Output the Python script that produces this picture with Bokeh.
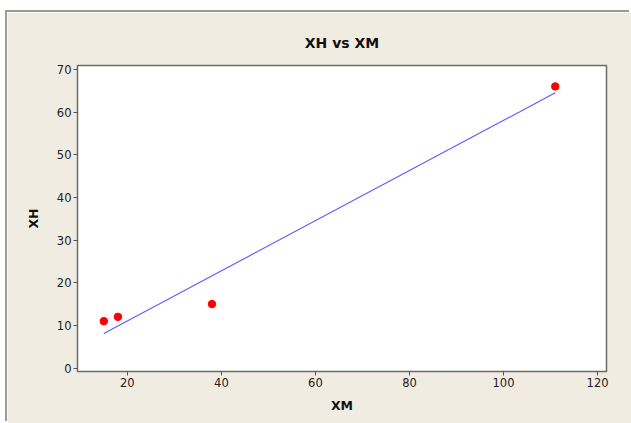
from bokeh.plotting import figure
from bokeh.models import Range1d, FixedTicker
from bokeh.embed import file_html
from bokeh.resources import INLINE

# data
xm = [15, 18, 38, 111]
xh = [11, 12, 15, 66]
fit_x = [15, 111]
fit_y = [8.1, 64.5]
x_ticks = [20, 40, 60, 80, 100, 120]
y_ticks = [0, 10, 20, 30, 40, 50, 60, 70]

BG = "#F1ECE2"
FONT = "DejaVu Sans"

p = figure(width=624, height=411, output_backend="svg", toolbar_location=None,
           x_range=Range1d(9.4, 121.9), y_range=Range1d(-0.8, 70.9),
           min_border_left=70, min_border_right=25, min_border_top=53, min_border_bottom=52,
           margin=(12, 0, 0, 7),
           styles={"box-shadow": "-2px -2px 0 #9a9a9a"})
p.background_fill_color = "white"
p.border_fill_color = BG
p.outline_line_color = "#6a6a6a"
p.outline_line_width = 1.5
p.grid.visible = False

p.title.text = "XH vs XM"
p.title.align = "center"
p.title.text_font = FONT
p.title.text_font_size = "14px"
p.title.text_font_style = "bold"
p.title.text_color = "#111111"
p.title.standoff = 29

for ax in (p.xaxis[0], p.yaxis[0]):
    ax.axis_line_color = "#6a6a6a"
    ax.major_tick_line_color = "#555555"
    ax.major_tick_in = 0
    ax.major_tick_out = 4
    ax.minor_tick_line_color = None
    ax.major_label_text_font = FONT
    ax.major_label_text_font_size = "11.5px"
    ax.major_label_text_color = "#222222"
    ax.major_label_standoff = 2
    ax.axis_label_text_font = FONT
    ax.axis_label_text_font_size = "12.5px"
    ax.axis_label_text_font_style = "bold"
    ax.axis_label_text_color = "#111111"

p.xaxis[0].ticker = FixedTicker(ticks=x_ticks)
p.yaxis[0].ticker = FixedTicker(ticks=y_ticks)
p.xaxis[0].axis_label = "XM"
p.yaxis[0].axis_label = "XH"
p.xaxis[0].axis_label_standoff = 8
p.yaxis[0].axis_label_standoff = 13

p.line(fit_x, fit_y, line_color="#5a5aff", line_width=1.1)
p.scatter(xm, xh, size=7.5, fill_color="#FF0000", line_color="#FF0000")

open("out.html", "w").write(file_html(p, INLINE))
